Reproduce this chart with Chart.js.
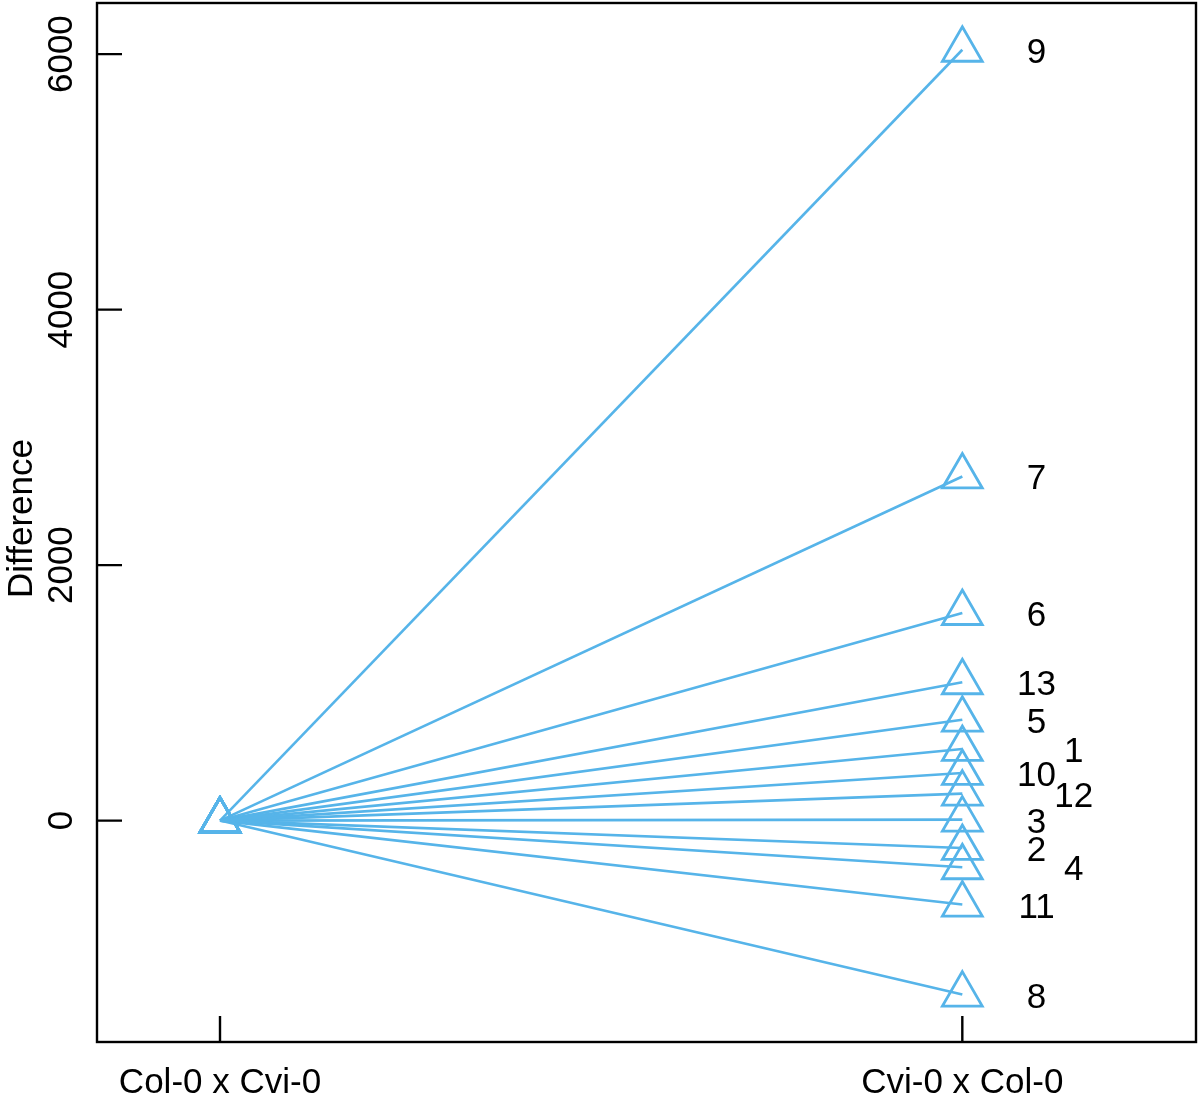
<!DOCTYPE html>
<html>
<head>
<meta charset="utf-8">
<script src="https://cdn.jsdelivr.net/npm/chart.js@4.4.1/dist/chart.umd.min.js"></script>
<style>
  html, body { margin: 0; padding: 0; background: #ffffff; }
  #wrap { width: 1200px; height: 1097px; }
</style>
</head>
<body>
<div id="wrap"><canvas id="c" width="1200" height="1097"></canvas></div>
<script>
// ---- data ----
const groups = ['Col-0 x Cvi-0', 'Cvi-0 x Col-0'];
const groupX = [1, 2];
const lineIds = ['1','2','3','4','5','6','7','8','9','10','11','12','13'];
const startValues = [0,0,0,0,0,0,0,0,0,0,0,0,0];
const endValues = [561, -214, 8, -365, 790, 1625, 2694, -1362, 6034, 373, -657, 211, 1083];
const yTickValues = [0, 2000, 4000, 6000];
const yTitle = 'Difference';
const staggeredIds = ['1', '12', '4'];

// ---- styling ----
const BLUE = '#56B4E9';
const FONT = '35px "Liberation Sans", Arial, Helvetica, sans-serif';
const LABEL_X = 2.1, LABEL_X_STAGGER = 2.15;

const datasets = lineIds.map((id, i) => ({
  label: id,
  data: [{x: groupX[0], y: startValues[i]}, {x: groupX[1], y: endValues[i]}],
  showLine: true,
  borderColor: BLUE,
  borderWidth: 2.6,
  pointStyle: 'triangle',
  pointRadius: 23,
  pointBorderWidth: 2.8,
  pointBorderColor: BLUE,
  pointBackgroundColor: 'rgba(0,0,0,0)',
  fill: false,
  tension: 0,
  clip: false
}));

const framePlugin = {
  id: 'frame',
  afterDraw(chart) {
    const ctx = chart.ctx;
    const a = chart.chartArea;
    const xs = chart.scales.x, ys = chart.scales.y;
    ctx.save();
    ctx.strokeStyle = '#000';
    ctx.lineWidth = 2.4;
    ctx.strokeRect(a.left, a.top, a.right - a.left, a.bottom - a.top);
    // inward ticks
    ctx.beginPath();
    yTickValues.forEach(v => {
      const y = ys.getPixelForValue(v);
      ctx.moveTo(a.left, y); ctx.lineTo(a.left + 25, y);
    });
    groupX.forEach(v => {
      const x = xs.getPixelForValue(v);
      ctx.moveTo(x, a.bottom); ctx.lineTo(x, a.bottom - 26);
    });
    ctx.stroke();
    ctx.fillStyle = '#000';
    ctx.font = FONT;
    // y tick labels (rotated)
    yTickValues.forEach(v => {
      const y = ys.getPixelForValue(v);
      ctx.save();
      ctx.translate(72, y);
      ctx.rotate(-Math.PI / 2);
      ctx.textAlign = 'center';
      ctx.textBaseline = 'alphabetic';
      ctx.fillText(String(v), 0, 0);
      ctx.restore();
    });
    // y title
    ctx.save();
    ctx.translate(32, (a.top + a.bottom) / 2 - 4);
    ctx.rotate(-Math.PI / 2);
    ctx.textAlign = 'center';
    ctx.textBaseline = 'alphabetic';
    ctx.fillText(yTitle, 0, 0);
    ctx.restore();
    // x category labels
    ctx.textAlign = 'center';
    ctx.textBaseline = 'alphabetic';
    groups.forEach((g, i) => {
      ctx.fillText(g, xs.getPixelForValue(groupX[i]), 1093);
    });
    // line id labels
    lineIds.forEach((id, i) => {
      const lx = staggeredIds.includes(id) ? LABEL_X_STAGGER : LABEL_X;
      const px = xs.getPixelForValue(lx);
      const py = ys.getPixelForValue(endValues[i]);
      ctx.fillText(id, px, py + 13);
    });
    ctx.restore();
  }
};

new Chart(document.getElementById('c'), {
  type: 'scatter',
  data: { datasets },
  options: {
    responsive: false,
    animation: false,
    events: [],
    layout: { autoPadding: false, padding: { left: 97, right: 4, top: 3, bottom: 55 } },
    plugins: { legend: { display: false }, tooltip: { enabled: false } },
    scales: {
      x: { type: 'linear', min: 0.8343, max: 2.3148, display: false },
      y: { type: 'linear', min: -1733, max: 6400, display: false }
    }
  },
  plugins: [framePlugin]
});
</script>
</body>
</html>
